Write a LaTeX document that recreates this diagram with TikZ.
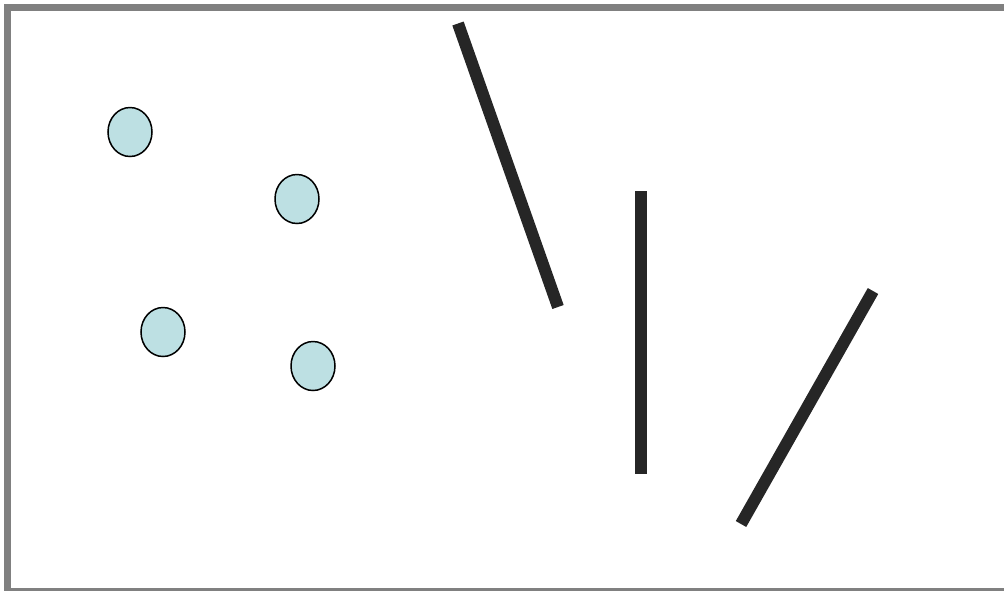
\documentclass[tikz,border=0pt]{standalone}
\definecolor{framegray}{RGB}{128,128,128}
\definecolor{dotfill}{RGB}{189,224,227}
\definecolor{barcol}{RGB}{38,38,38}
\tikzset{
  dot/.style={ellipse, draw=black, line width=1.5pt, fill=dotfill, minimum width=44pt, minimum height=49pt, inner sep=0pt},
  bar/.style={draw=barcol, line width=12pt, line cap=butt}
}
\usetikzlibrary{shapes.geometric}
\begin{document}
\begin{tikzpicture}[x=1pt,y=-1pt]
\useasboundingbox (0,0) rectangle (1004,590);
\begin{scope}
\clip (0,0) rectangle (1004,590);
\draw[framegray, line width=7pt] (7.5,7.5) rectangle (1020,591);
\end{scope}
\node[dot] (c1) at (130,132) {};
\node[dot] (c2) at (297,199) {};
\node[dot] (c3) at (163,332) {};
\node[dot] (c4) at (313,366) {};
\coordinate (a1) at (458,23.5);
\coordinate (a2) at (558,307);
\coordinate (b1) at (641,191);
\coordinate (b2) at (641,474);
\coordinate (d1) at (873,291);
\coordinate (d2) at (741,524);
\draw[bar] (a1) -- (a2);
\draw[bar] (b1) -- (b2);
\draw[bar] (d1) -- (d2);
\end{tikzpicture}
\end{document}
